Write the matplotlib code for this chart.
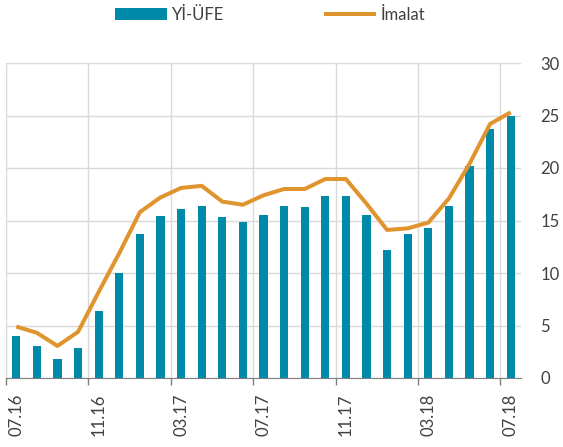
import numpy as np
import matplotlib.pyplot as plt

# aylar: 07.16 - 07.18
months = ['07.16', '08.16', '09.16', '10.16', '11.16', '12.16', '01.17', '02.17', '03.17',
          '04.17', '05.17', '06.17', '07.17', '08.17', '09.17', '10.17', '11.17', '12.17',
          '01.18', '02.18', '03.18', '04.18', '05.18', '06.18', '07.18']
yi_ufe = [4.0, 3.05, 1.8, 2.9, 6.4, 10.0, 13.7, 15.4, 16.1, 16.4, 15.3, 14.9, 15.5,
          16.4, 16.3, 17.3, 17.3, 15.5, 12.2, 13.7, 14.3, 16.4, 20.2, 23.7, 25.0]
imalat = [4.9, 4.3, 3.05, 4.4, 8.2, 11.9, 15.8, 17.2, 18.1, 18.3, 16.8, 16.5, 17.4,
          18.0, 18.0, 18.95, 18.95, 16.6, 14.1, 14.25, 14.8, 17.1, 20.4, 24.2, 25.3]

plt.rcParams['font.family'] = ['Lato', 'DejaVu Sans']
txt = '#404040'
bar_c = '#008aaa'
line_c = '#e0942e'

fig = plt.figure(figsize=(5.63, 4.47), dpi=100)
ax = fig.add_axes([6/563, 69/447, 515/563, 315/447])

x = np.arange(len(months))
bars = ax.bar(x, yi_ufe, width=0.4, color=bar_c, label='Yİ-ÜFE', zorder=3)
line, = ax.plot(x, imalat, color=line_c, lw=2.9, label='İmalat', zorder=4, solid_capstyle='butt')

ax.set_xlim(-0.5, len(months) - 0.5)
ax.set_ylim(0, 30)
ax.set_yticks(range(0, 31, 5))
ax.yaxis.tick_right()
ax.tick_params(axis='y', length=0, pad=14, labelsize=12, labelcolor=txt)

# etiketler ay ortasinda, cizgiler ay sinirinda
ax.set_xticks(x[::4])
ax.set_xticklabels(months[::4], rotation=90)
ax.set_xticks(x[::4] - 0.5, minor=True)
ax.tick_params(axis='x', which='major', length=0, pad=11, labelsize=12, labelcolor=txt)
ax.tick_params(axis='x', which='minor', length=5, width=1, color='#7f7f7f')

ax.grid(True, axis='y', color='#d9d9d9', lw=1, zorder=0)
ax.grid(True, axis='x', which='minor', color='#d9d9d9', lw=1, zorder=0)
ax.grid(False, axis='x', which='major')
for s in ['top', 'left', 'right']:
    ax.spines[s].set_visible(False)
ax.spines['bottom'].set_color('#7f7f7f')
ax.spines['bottom'].set_zorder(5)

leg = ax.legend([bars, line], ['Yİ-ÜFE', 'İmalat'], loc='center left',
                bbox_to_anchor=(115/563, 1 - 15/447), bbox_transform=fig.transFigure,
                ncol=2, frameon=False, fontsize=12, handlelength=3.1, handletextpad=0.3,
                columnspacing=6, borderpad=0, borderaxespad=0)
for t in leg.get_texts():
    t.set_color(txt)

fig.savefig('out.png', dpi=100)
